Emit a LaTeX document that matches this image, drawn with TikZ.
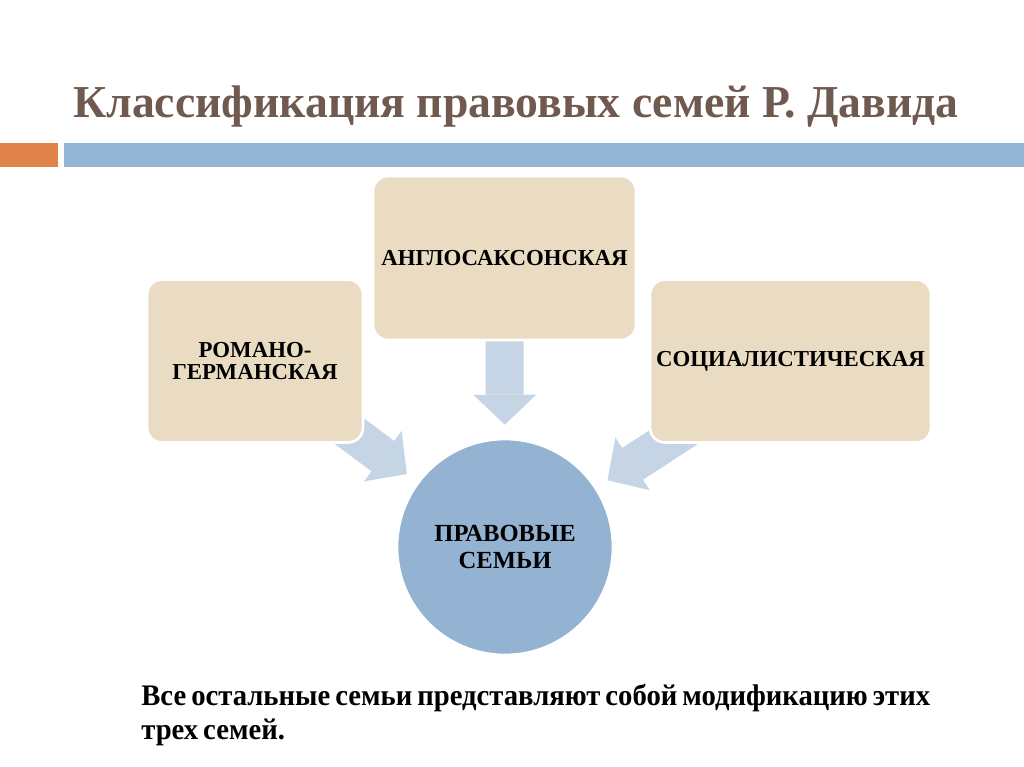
\documentclass[tikz,border=0pt]{standalone}
\usepackage{fontspec}
\setmainfont{Liberation Serif}
\newfontfamily\notefont[WordSpace=0.7, FakeStretch=0.96]{Liberation Serif}
\usetikzlibrary{arrows.meta, positioning, backgrounds}
\definecolor{dtitle}{HTML}{705A50}
\definecolor{dorange}{HTML}{E0834A}
\definecolor{dbar}{HTML}{93B4D2}
\definecolor{dtan}{HTML}{E9DCC3}
\definecolor{dcircle}{HTML}{94B3D3}
\definecolor{dflow}{HTML}{C6D5E5}
\tikzset{
  every picture/.style={line join=round},
  % family boxes
  family/.style={rounded corners=0.3cm, fill=dtan, draw=white, line width=1.5pt,
    align=center, font=\fontsize{13}{12.5}\selectfont\bfseries, inner sep=0pt},
  core/.style={circle, fill=dcircle, draw=white, line width=1.5pt, minimum size=4.32cm,
    align=center, font=\fontsize{14}{15.5}\selectfont\bfseries, inner sep=0pt},
  % wide pale arrows into the circle
  flow/.style={dflow, line width=0.76cm,
    -{Triangle[length=0.6cm, width=1.26cm, line width=0pt]}, shorten >=0.26cm},
}

\begin{document}
\begin{tikzpicture}[x=0.02cm, y=-0.02cm]
  \useasboundingbox (0,0) rectangle (1024,767);
  % ---- heading and rule
  \node[anchor=base, text=dtitle, font=\fontsize{26}{30}\selectfont\bfseries] (title) at (516,117)
    {Классификация правовых семей Р. Давида};
  \fill[dorange] (0,143) rectangle (58,167);
  \fill[dbar] (64,143) rectangle (1024,167);
  % ---- the three families
  \node[family, minimum width=5.26cm, minimum height=3.28cm] (anglo) at (504.5,258) {АНГЛОСАКСОНСКАЯ};
  \node[family, minimum width=4.32cm, minimum height=3.26cm] (romano) at (255,361) {РОМАНО-\\ГЕРМАНСКАЯ};
  \node[family, minimum width=5.62cm, minimum height=3.26cm] (social) at (790.5,361) {СОЦИАЛИСТИЧЕСКАЯ};
  \node[core] (fam) at (505,547) {ПРАВОВЫЕ\\СЕМЬИ};
  \begin{scope}[on background layer]
    \draw[flow] (anglo.center) -- (fam);
    \draw[flow] (romano.center) -- (fam);
    \draw[flow] (social.center) -- (fam);
  \end{scope}
  % ---- note
  \node[anchor=north west, inner sep=0pt, align=left,
    font=\notefont\fontsize{17}{19}\selectfont\bfseries] (note) at (141,684)
    {Все остальные семьи представляют собой модификацию этих\\трех семей.};
\end{tikzpicture}
\end{document}
